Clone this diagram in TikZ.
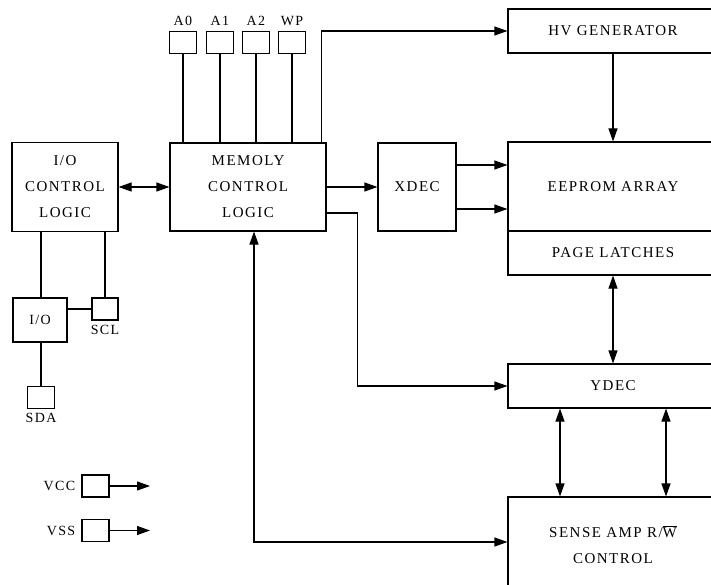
\documentclass[tikz,border=0pt]{standalone}
\usepackage{fontspec}
\setmainfont{Liberation Serif}[LetterSpace=10]
\usetikzlibrary{arrows.meta}

\tikzset{
  blk/.style={draw,line width=1.1pt,inner sep=0pt,align=center,font=\fontsize{15}{26}\selectfont},
  pin/.style={draw,line width=1.1pt,minimum width=27pt,minimum height=22pt,inner sep=0pt},
  lbl/.style={inner sep=0pt,font=\fontsize{14}{16}\selectfont},
  wire/.style={line width=1.1pt},
  arr/.style={wire,-{Triangle[length=13pt,width=9pt]}},
  darr/.style={wire,{Triangle[length=13pt,width=9pt]}-{Triangle[length=13pt,width=9pt]}}
}

\begin{document}
\begin{tikzpicture}[x=1pt,y=-1pt]

\clip (0,0) rectangle (711,585);
\fill[white] (0,0) rectangle (711,585);

% main blocks
\node[blk,minimum width=106pt,minimum height=89pt] (ioctrl) at (65,187) {I/O\\CONTROL\\LOGIC};
\node[blk,minimum width=156pt,minimum height=88pt] (memctl) at (248,187) {MEMOLY\\CONTROL\\LOGIC};
\node[blk,minimum width=78pt,minimum height=88pt] (xdec) at (417,187) {XDEC};
\node[blk,minimum width=210pt,minimum height=44pt] (hvgen) at (613,31) {HV GENERATOR};
\node[blk,minimum width=210pt,minimum height=89pt] (eeprom) at (613,186.5) {EEPROM ARRAY};
\node[blk,minimum width=210pt,minimum height=44pt] (latches) at (613,253) {PAGE LATCHES};
\node[blk,minimum width=210pt,minimum height=44pt] (ydec) at (613,386) {YDEC};
\node[blk,minimum width=210pt,minimum height=96pt] (sense) at (613,545) {SENSE AMP R/$\overline{\hbox{W}}$\\CONTROL};

% address pins
\node[pin] (pa0) at (183,42.5) {};
\node[pin] (pa1) at (220,42.5) {};
\node[pin] (pa2) at (256,42.5) {};
\node[pin] (pwp) at (292,42.5) {};
\node[lbl,above=5pt] at (pa0.north) {A0};
\node[lbl,above=5pt] at (pa1.north) {A1};
\node[lbl,above=5pt] at (pa2.north) {A2};
\node[lbl,above=5pt] at (pwp.north) {WP};

\draw[wire] (pa0.south) -- (pa0.south |- memctl.north);
\draw[wire] (pa1.south) -- (pa1.south |- memctl.north);
\draw[wire] (pa2.south) -- (pa2.south |- memctl.north);
\draw[wire] (pwp.south) -- (pwp.south |- memctl.north);

% serial side
\node[blk,minimum width=54pt,minimum height=44pt,font=\fontsize{14}{16}\selectfont] (io) at (40,320) {I/O};
\node[pin,minimum width=26pt] (scl) at (105,309) {};
\node[pin] (sda) at (41,397.5) {};
\node[lbl,below=4pt] at (scl.south) {SCL};
\node[lbl,below=4pt] at (sda.south) {SDA};

\draw[wire] ([xshift=1pt]io.north) -- ([xshift=1pt]io.north |- ioctrl.south);
\draw[wire] (scl.north) -- (scl.north |- ioctrl.south);
\draw[wire] (io.east |- scl) -- (scl.west);
\draw[wire] (sda.north) -- (sda.north |- io.south);

% supply pins
\node[pin] (vcc) at (95.5,486) {};
\node[pin] (vss) at (95.5,530.5) {};
\node[lbl,left=6pt] at (vcc.west) {VCC};
\node[lbl,left=6pt] at (vss.west) {VSS};
\coordinate (vccout) at (150,486);
\coordinate (vssout) at (150,530.5);
\draw[arr] (vcc.east) -- (vccout);
\draw[arr] (vss.east) -- (vssout);

% connectors
\draw[darr] (ioctrl) -- (memctl);
\draw[arr] (memctl) -- (xdec);
\draw[arr] ([xshift=-5pt]memctl.north east) |- (hvgen.west);
\draw[arr] ([yshift=22pt]xdec.east) -- ([yshift=22pt]xdec.east -| eeprom.west);
\draw[arr] ([yshift=-22pt]xdec.east) -- ([yshift=-22pt]xdec.east -| eeprom.west);
\draw[arr] ([yshift=-26pt]memctl.east) -- ++(31,0) |- (ydec.west);
\draw[arr] (hvgen) -- (eeprom);
\draw[darr] (latches) -- (ydec);
\draw[darr] ([xshift=-53pt]ydec.south) -- ([xshift=-53pt]ydec.south |- sense.north);
\draw[darr] ([xshift=53pt]ydec.south) -- ([xshift=53pt]ydec.south |- sense.north);

\coordinate (bend) at (254,542);
\draw[darr] (memctl.south -| bend) -- (bend) -- (bend -| sense.west);

\end{tikzpicture}
\end{document}
